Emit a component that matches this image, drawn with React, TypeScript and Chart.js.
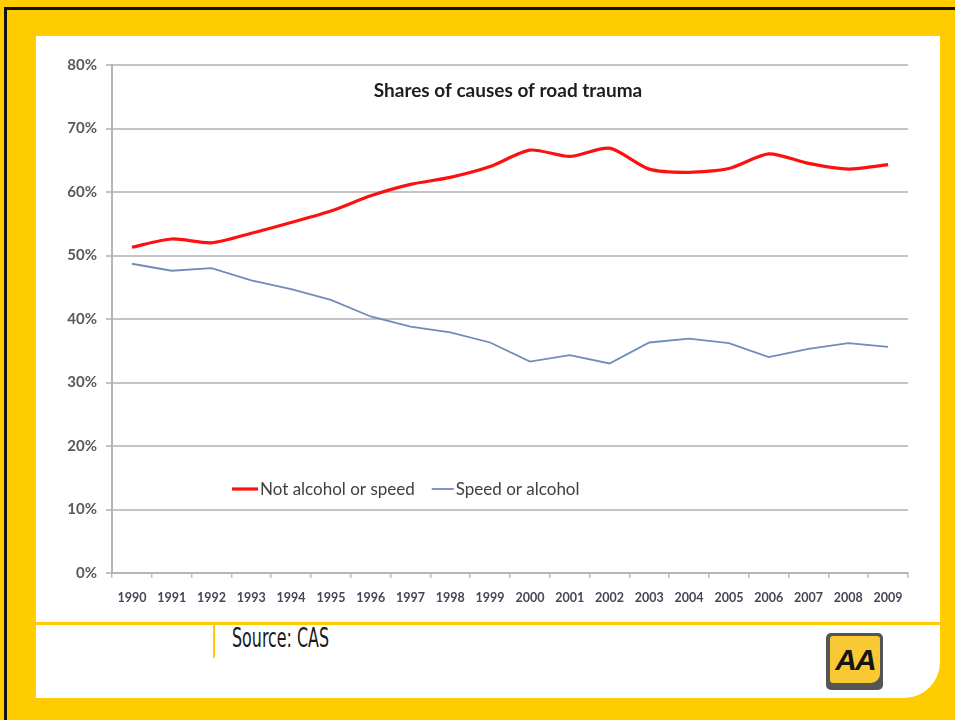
import React, { useEffect, useRef } from "react";
import { Chart, registerables } from "chart.js";

Chart.register(...registerables);

const years = ["1990","1991","1992","1993","1994","1995","1996","1997","1998","1999","2000","2001","2002","2003","2004","2005","2006","2007","2008","2009"];
const notAlcoholOrSpeed = [51.3, 52.6, 52.0, 53.5, 55.2, 57.0, 59.4, 61.2, 62.3, 64.0, 66.6, 65.6, 66.9, 63.6, 63.1, 63.7, 66.0, 64.5, 63.6, 64.3];
const speedOrAlcohol = [48.7, 47.6, 48.0, 46.1, 44.7, 43.0, 40.4, 38.8, 37.9, 36.3, 33.3, 34.3, 33.0, 36.3, 36.9, 36.2, 34.0, 35.3, 36.2, 35.6];
const seriesLabels = ["Not alcohol or speed", "Speed or alcohol"];
const chartTitle = "Shares of causes of road trauma";
const yMax = 80;
const yStep = 10;

const FONT = "Lato, 'Open Sans', sans-serif";

const overlayPlugin = {
  id: "overlayTitleLegend",
  afterDraw(chart: any) {
    const { ctx, chartArea } = chart;
    ctx.save();
    // title
    ctx.font = `bold 19px ${FONT}`;
    ctx.fillStyle = "#1e1e1e";
    ctx.textAlign = "center";
    ctx.textBaseline = "middle";
    ctx.fillText(chartTitle, (chartArea.left + chartArea.right) / 2 - 2, chartArea.top + 26);

    // legend
    ctx.font = `17px ${FONT}`;
    ctx.textAlign = "left";
    let x = chartArea.left + 120;
    const y = chartArea.top + 424;
    const segLens = [26, 22];
    chart.data.datasets.forEach((ds: any, i: number) => {
      ctx.strokeStyle = ds.borderColor;
      ctx.lineWidth = i === 0 ? 3.2 : 1.8;
      ctx.beginPath();
      ctx.moveTo(x, y);
      ctx.lineTo(x + segLens[i], y);
      ctx.stroke();
      x += segLens[i] + 2;
      ctx.fillStyle = "#404040";
      ctx.fillText(ds.label, x, y + 1);
      x += ctx.measureText(ds.label).width + 17;
    });
    ctx.restore();
  },
};

function RoadTraumaChart() {
  const canvasRef = useRef<HTMLCanvasElement | null>(null);

  useEffect(() => {
    if (!canvasRef.current) return;
    const chart = new Chart(canvasRef.current, {
      type: "line",
      data: {
        labels: years,
        datasets: [
          {
            label: seriesLabels[0],
            data: notAlcoholOrSpeed,
            borderColor: "#ff1010",
            borderWidth: 3.2,
            pointRadius: 0,
            tension: 0.25,
            fill: false,
          },
          {
            label: seriesLabels[1],
            data: speedOrAlcohol,
            borderColor: "#6f8cba",
            borderWidth: 1.8,
            pointRadius: 0,
            tension: 0,
            fill: false,
          },
        ],
      },
      options: {
        animation: false,
        responsive: false,
        maintainAspectRatio: false,
        layout: { padding: { top: 29, right: 32, left: 0, bottom: 0 } },
        plugins: {
          legend: { display: false },
          title: { display: false },
          tooltip: { enabled: false },
        },
        scales: {
          x: {
            type: "category",
            offset: true,
            grid: {
              offset: true,
              drawOnChartArea: false,
              drawTicks: true,
              tickLength: 5,
              color: "#bdbdbd",
              lineWidth: 1.5,
            },
            border: { color: "#b5b5b5", width: 2 },
            ticks: {
              autoSkip: false,
              maxRotation: 0,
              minRotation: 0,
              padding: 12,
              color: "#4a4458",
              font: { family: FONT, size: 12.5, weight: "bold" },
            },
            afterFit(scale: any) {
              scale.height = 49;
            },
          },
          y: {
            min: 0,
            max: yMax,
            ticks: {
              stepSize: yStep,
              padding: 9,
              color: "#595959",
              font: { family: FONT, size: 15, weight: "bold" },
              callback: (v: any) => `${v}%`,
            },
            grid: {
              color: "#c4c4c4",
              lineWidth: 2,
              tickLength: 6,
            },
            border: { color: "#b5b5b5", width: 2 },
            afterFit(scale: any) {
              scale.width = 76;
            },
          },
        },
      },
      plugins: [overlayPlugin],
    });
    return () => chart.destroy();
  }, []);

  return (
    <canvas
      ref={canvasRef}
      width={904}
      height={586}
      style={{ position: "absolute", left: 36, top: 36, width: 904, height: 586 }}
    />
  );
}

export default function App() {
  return (
    <div
      style={{
        position: "fixed",
        left: 0,
        top: 0,
        width: 955,
        height: 720,
        background: "#ffcc00",
        overflow: "hidden",
      }}
    >
      <div
        style={{
          position: "absolute",
          left: 4,
          top: 7,
          right: -10,
          bottom: -10,
          borderTop: "3px solid #111",
          borderLeft: "3px solid #111",
        }}
      />
      <div
        style={{
          position: "absolute",
          left: 36,
          top: 36,
          width: 904,
          height: 662,
          background: "#ffffff",
          borderBottomRightRadius: 36,
        }}
      />
      <RoadTraumaChart />
      <div style={{ position: "absolute", left: 36, top: 622, width: 904, height: 3, background: "#ffcc00" }} />
      <div style={{ position: "absolute", left: 213, top: 622, width: 2, height: 36, background: "#ffcc00" }} />
      <div
        style={{
          position: "absolute",
          left: 232,
          top: 623,
          fontFamily: "'Liberation Sans Narrow', 'DejaVu Sans Condensed', sans-serif",
          fontSize: 26,
          lineHeight: "30px",
          color: "#1a1a1a",
          whiteSpace: "nowrap",
          transform: "scaleX(0.68)",
          transformOrigin: "left top",
        }}
      >
        Source: CAS
      </div>
      <div
        style={{
          position: "absolute",
          left: 826,
          top: 633,
          width: 57,
          height: 57,
          background: "#555555",
          borderRadius: 5,
        }}
      />
      <div
        style={{
          position: "absolute",
          left: 830,
          top: 636,
          width: 50,
          height: 47,
          background: "#f8c933",
          borderRadius: "3px 3px 9px 3px",
          display: "flex",
          alignItems: "center",
          justifyContent: "center",
          fontFamily: "'Liberation Sans', Arial, sans-serif",
          fontWeight: 900,
          fontStyle: "italic",
          fontSize: 30,
          letterSpacing: -2,
          color: "#151515",
          lineHeight: "47px",
        }}
      >
        AA
      </div>
    </div>
  );
}
